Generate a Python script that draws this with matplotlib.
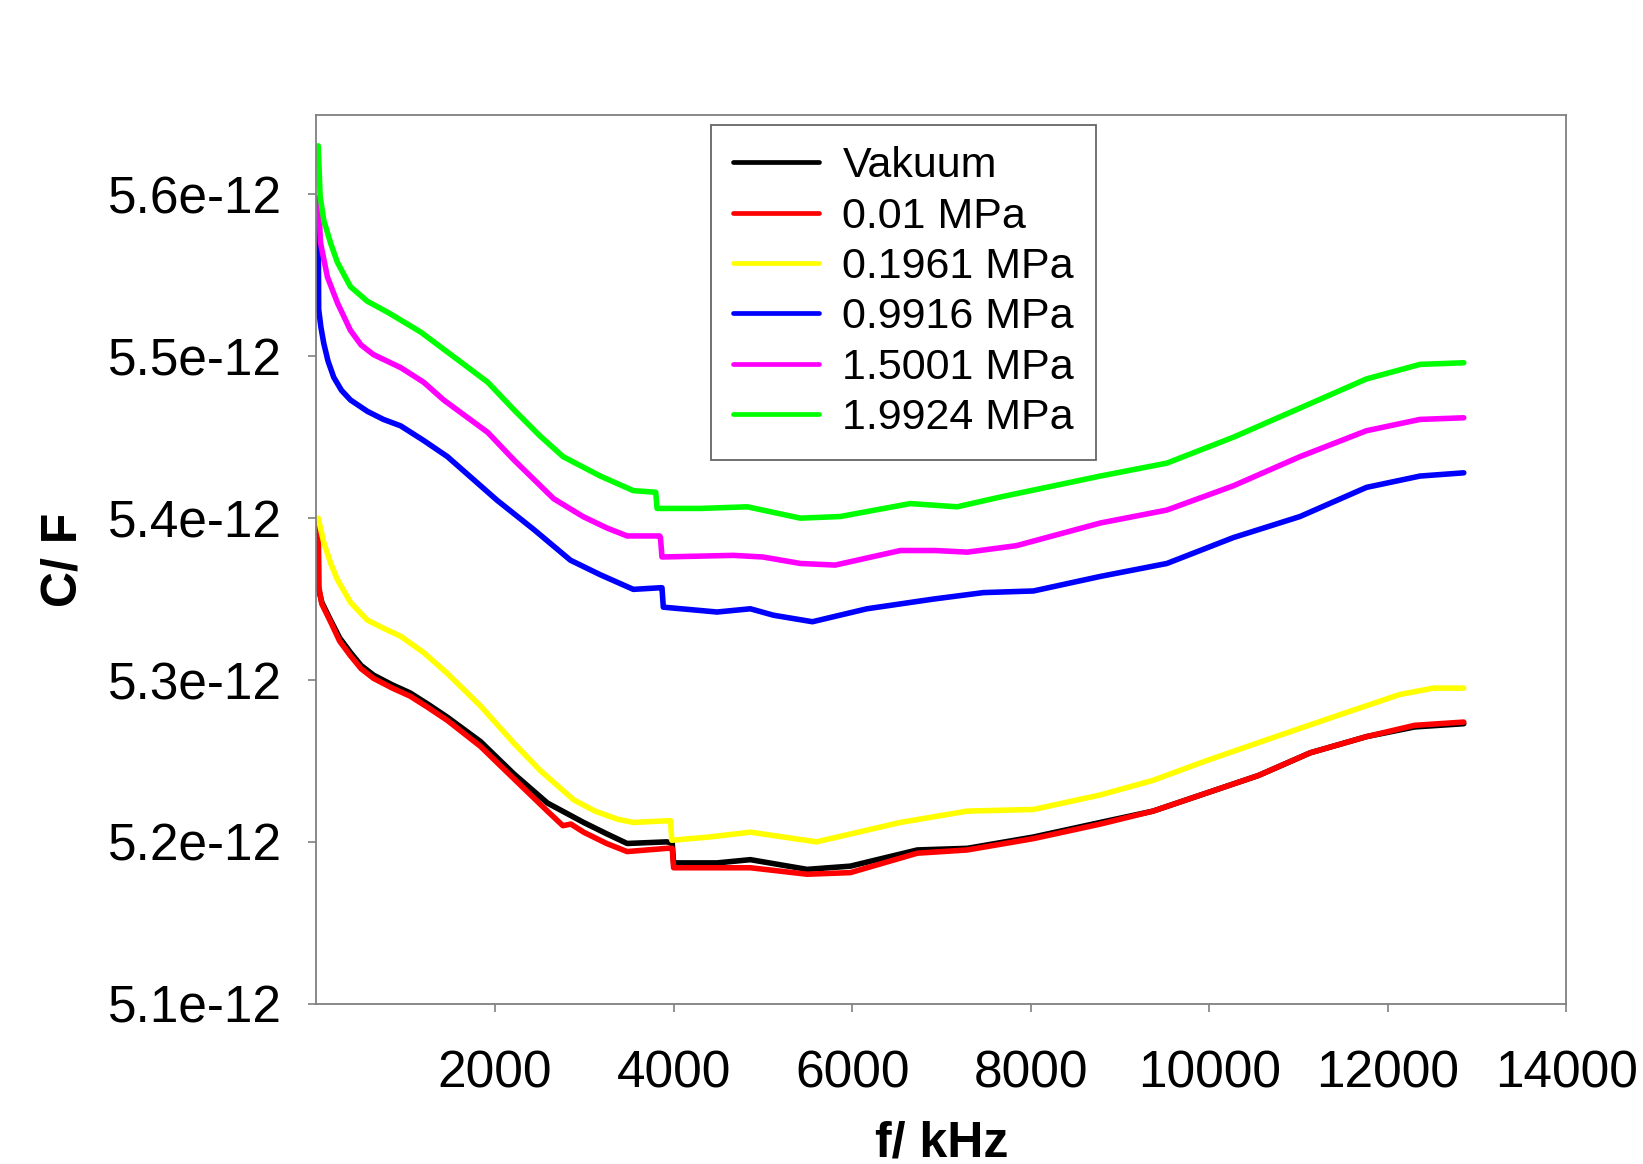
"""
Capacitance vs. frequency at different gas pressures
"""

import matplotlib
matplotlib.use('Agg')
import matplotlib.pyplot as plt
from matplotlib.ticker import FuncFormatter

# ============================================================================
# DATA  (f in kHz, C in pF)
# ============================================================================

LABELS = ['Vakuum', '0.01 MPa', '0.1961 MPa', '0.9916 MPa', '1.5001 MPa', '1.9924 MPa']
COLORS = ['#000000', '#ff0000', '#ffff00', '#0000ff', '#ff00ff', '#00ff00']

f_vak = [20, 25, 60, 158, 260, 381, 500, 640, 850, 1050, 1250, 1467, 1837, 2211, 2587,
         2992, 3250, 3480, 3925, 3985, 4000, 4487, 4860, 5495, 5980, 6730, 7290, 8030,
         8780, 9370, 9960, 10550, 11130, 11760, 12300, 12850]
c_vak = [5.388, 5.356, 5.348, 5.337, 5.326, 5.317, 5.309, 5.303, 5.297, 5.292, 5.285,
         5.277, 5.262, 5.242, 5.224, 5.212, 5.205, 5.199, 5.200, 5.199, 5.187, 5.187,
         5.189, 5.183, 5.185, 5.195, 5.196, 5.203, 5.212, 5.219, 5.230, 5.241, 5.255,
         5.265, 5.271, 5.273]

f_001 = [20, 25, 60, 158, 260, 381, 500, 640, 850, 1050, 1250, 1467, 1837, 2211, 2587,
         2760, 2850, 2992, 3250, 3480, 3925, 3985, 4000, 4487, 4860, 5495, 5980, 6730,
         7290, 8030, 8780, 9370, 9960, 10550, 11130, 11760, 12300, 12850]
c_001 = [5.398, 5.358, 5.347, 5.336, 5.324, 5.315, 5.307, 5.301, 5.295, 5.290, 5.283,
         5.275, 5.259, 5.239, 5.219, 5.210, 5.211, 5.206, 5.199, 5.194, 5.196, 5.196,
         5.184, 5.184, 5.184, 5.180, 5.181, 5.193, 5.195, 5.202, 5.211, 5.219, 5.230,
         5.241, 5.255, 5.265, 5.272, 5.274]

f_0196 = [20, 82, 160, 235, 381, 570, 750, 944, 1200, 1467, 1837, 2211, 2508, 2880,
          3120, 3372, 3549, 3925, 3966, 3980, 4400, 4860, 5600, 6540, 7290, 8030, 8780,
          9370, 9960, 10640, 11380, 12130, 12510, 12850]
c_0196 = [5.400, 5.385, 5.372, 5.362, 5.348, 5.337, 5.332, 5.327, 5.317, 5.304, 5.284,
          5.261, 5.244, 5.226, 5.219, 5.214, 5.212, 5.213, 5.213, 5.201, 5.203, 5.206,
          5.200, 5.212, 5.219, 5.220, 5.229, 5.238, 5.250, 5.263, 5.277, 5.291, 5.295,
          5.295]

f_0992 = [20, 25, 50, 82, 130, 194, 280, 381, 570, 750, 944, 1200, 1467, 2024, 2434,
          2845, 3180, 3549, 3853, 3870, 3885, 4487, 4860, 5120, 5555, 6165, 6910, 7470,
          8030, 8780, 9525, 10270, 11016, 11760, 12360, 12850]
c_0992 = [5.584, 5.529, 5.518, 5.508, 5.497, 5.487, 5.479, 5.473, 5.466, 5.461, 5.457,
          5.448, 5.438, 5.411, 5.393, 5.374, 5.365, 5.356, 5.357, 5.357, 5.345, 5.342,
          5.344, 5.340, 5.336, 5.344, 5.350, 5.354, 5.355, 5.364, 5.372, 5.388, 5.401,
          5.419, 5.426, 5.428]

f_1500 = [20, 46, 123, 235, 381, 500, 640, 944, 1200, 1425, 1918, 2211, 2657, 2985,
          3250, 3480, 3845, 3853, 3870, 4670, 5000, 5420, 5810, 6540, 6930, 7290, 7840,
          8780, 9525, 10270, 11016, 11760, 12360, 12850]
c_1500 = [5.598, 5.570, 5.549, 5.533, 5.516, 5.507, 5.501, 5.493, 5.484, 5.473, 5.453,
          5.436, 5.412, 5.401, 5.394, 5.389, 5.389, 5.388, 5.376, 5.377, 5.376, 5.372,
          5.371, 5.380, 5.380, 5.379, 5.383, 5.397, 5.405, 5.420, 5.438, 5.454, 5.461,
          5.462]

f_1992 = [20, 41, 82, 158, 235, 381, 570, 804, 1167, 1531, 1918, 2211, 2500, 2762,
          3180, 3549, 3800, 3815, 4300, 4827, 5420, 5866, 6651, 7175, 7655, 8779, 9525,
          10270, 11016, 11760, 12360, 12850]
c_1992 = [5.630, 5.599, 5.584, 5.570, 5.558, 5.543, 5.534, 5.527, 5.515, 5.500, 5.484,
          5.467, 5.451, 5.438, 5.426, 5.417, 5.416, 5.406, 5.406, 5.407, 5.400, 5.401,
          5.409, 5.407, 5.413, 5.426, 5.434, 5.450, 5.468, 5.486, 5.495, 5.496]

SERIES = [(f_vak, c_vak), (f_001, c_001), (f_0196, c_0196),
          (f_0992, c_0992), (f_1500, c_1500), (f_1992, c_1992)]

X_TICKS = [2000, 4000, 6000, 8000, 10000, 12000, 14000]
Y_TICKS = [5.1e-12, 5.2e-12, 5.3e-12, 5.4e-12, 5.5e-12, 5.6e-12]

# ============================================================================
# PLOT
# ============================================================================

plt.rcParams['font.family'] = ['Liberation Sans', 'DejaVu Sans']

fig = plt.figure(figsize=(16.43, 11.64), dpi=100)
ax = fig.add_axes([0.1926, 0.1377, 0.7608, 0.7634])

for (f, c), label, color in zip(SERIES, LABELS, COLORS):
    ax.plot(f, [v * 1e-12 for v in c], color=color, lw=4.0, label=label,
            solid_capstyle='round', solid_joinstyle='round')

ax.set_xlim(0, 14000)
ax.set_ylim(5.1e-12, 5.649e-12)
ax.set_xticks(X_TICKS)
ax.set_yticks(Y_TICKS)
ax.yaxis.set_major_formatter(FuncFormatter(lambda v, p: f'{v * 1e12:.1f}e-12'))

for side in ax.spines.values():
    side.set_color('#808080')
    side.set_linewidth(1.3)

ax.tick_params(axis='both', direction='out', color='#808080', width=1.2, length=6,
               labelsize=37)
ax.tick_params(axis='x', pad=27)
ax.tick_params(axis='y', pad=19)

ax.set_xlabel('f/ kHz', fontsize=36, fontweight='bold')
ax.set_ylabel('C/ F', fontsize=36, fontweight='bold')
ax.xaxis.set_label_coords(0.5, -0.131)
ax.yaxis.set_label_coords(-0.184, 0.5)

leg = ax.legend(loc='upper left', bbox_to_anchor=(0.3157, 0.989), fontsize=31,
                frameon=True, fancybox=False, handlelength=2.0, handletextpad=0.55,
                labelspacing=0.24, borderpad=0.5, borderaxespad=0)
leg.get_frame().set_edgecolor('#404040')
leg.get_frame().set_linewidth(1.3)
for line in leg.get_lines():
    line.set_linewidth(3.4)

fig.savefig('out.png', dpi=100)
plt.close(fig)
